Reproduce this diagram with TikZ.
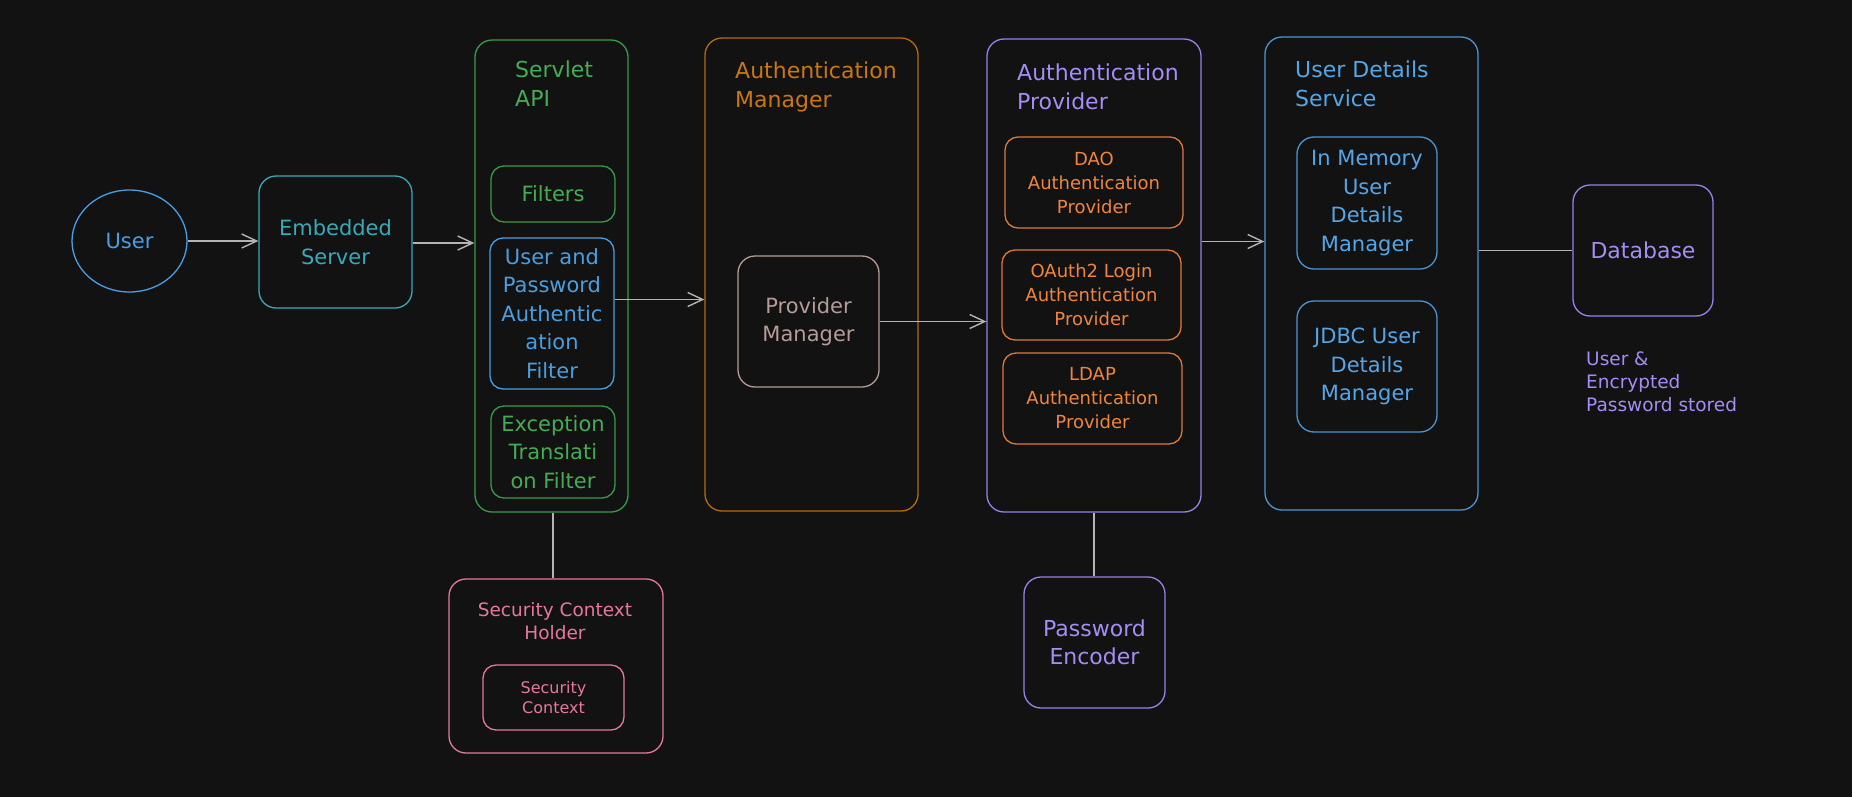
\documentclass[tikz,border=0pt]{standalone}
\usepackage{fontspec}
\setmainfont{DejaVu Sans}
\usetikzlibrary{arrows.meta,shapes.geometric,calc}
\definecolor{bgc}{HTML}{121212}
\definecolor{connc}{HTML}{B4B4B4}
\definecolor{userc}{HTML}{4A9EE6}
\definecolor{embc}{HTML}{3AA9B8}
\definecolor{greenc}{HTML}{3A9A48}
\definecolor{greent}{HTML}{45AC55}
\definecolor{bluec}{HTML}{4A9EE0}
\definecolor{amgrc}{HTML}{B86A0C}
\definecolor{amgrt}{HTML}{C97810}
\definecolor{pmc}{HTML}{B59C96}
\definecolor{purplec}{HTML}{9A80EE}
\definecolor{purplet}{HTML}{A68CF5}
\definecolor{orangec}{HTML}{E0783A}
\definecolor{oranget}{HTML}{F0853E}
\definecolor{udsc}{HTML}{4A94D6}
\definecolor{udst}{HTML}{55A6E8}
\definecolor{pinkc}{HTML}{E5789C}
\newcommand{\ftitle}{\fontsize{22}{28.5}\selectfont}
\newcommand{\fbody}{\fontsize{21}{28.5}\selectfont}
\newcommand{\fsmall}{\fontsize{18}{24}\selectfont}
\newcommand{\fnote}{\fontsize{18.5}{23}\selectfont}
\newcommand{\ftiny}{\fontsize{16}{20}\selectfont}
\tikzset{
  box/.style={draw=#1, text=#1, rounded corners=17pt, line width=1.3pt, inner sep=0pt, align=center},
  sbox/.style={box=#1, rounded corners=13pt},
  conn/.style={draw=connc, line width=1.4pt},
  arr/.style={conn, -{Straight Barb[length=15pt,width=14pt,line width=1.4pt]}},
  title/.style={text=#1, align=left, anchor=north west, inner sep=0pt},
}
\begin{document}
\begin{tikzpicture}[x=1pt,y=-1pt]
\useasboundingbox (0,0) rectangle (1852,796);
\fill[bgc] (-6,-6) rectangle (1858,802);

% User
\node[draw=userc, text=userc, ellipse, line width=1.3pt, minimum width=115, minimum height=102, inner sep=0pt, font=\fbody] (user) at (129.5,241) {User};
% Embedded Server
\node[box=embc, minimum width=153, minimum height=132, font=\fbody] (emb) at (335.5,242) {Embedded\\Server};

% Servlet API
\node[box=greenc, minimum width=153, minimum height=472] (servlet) at (551.5,276) {};
\node[title=greent, font=\ftitle] (servlett) at (515,61) {Servlet\\API};
\node[sbox=greenc, text=greent, minimum width=124, minimum height=56, font=\fbody] (filters) at (553,194) {Filters};
\node[sbox=bluec, minimum width=124, minimum height=151, font=\fbody] (upa) at (552,313.5) {User and\\Password\\Authentic\\ation\\Filter};
\node[sbox=greenc, text=greent, minimum width=124, minimum height=92, font=\fbody] (exc) at (553,452) {Exception\\Translati\\on Filter};

% Authentication Manager
\node[box=amgrc, minimum width=213, minimum height=473] (amgr) at (811.5,274.5) {};
\node[title=amgrt, font=\ftitle] (amgrt) at (735,62) {Authentication\\Manager};
\node[box=pmc, minimum width=141, minimum height=131, font=\fbody] (pm) at (808.5,321.5) {Provider\\Manager};

% Authentication Provider
\node[box=purplec, minimum width=214, minimum height=473] (aprov) at (1094,275.5) {};
\node[title=purplet, font=\ftitle] (aprovt) at (1017,64) {Authentication\\Provider};
\node[sbox=orangec, text=oranget, minimum width=178, minimum height=91, font=\fsmall] (dao) at (1094,182.5) {DAO\\Authentication\\Provider};
\node[sbox=orangec, text=oranget, minimum width=179, minimum height=90, font=\fsmall] (oauth) at (1091.5,295) {OAuth2 Login\\Authentication\\Provider};
\node[sbox=orangec, text=oranget, minimum width=179, minimum height=91, font=\fsmall] (ldap) at (1092.5,398.5) {LDAP\\Authentication\\Provider};

% User Details Service
\node[box=udsc, minimum width=213, minimum height=473] (uds) at (1371.5,273.5) {};
\node[title=udst, font=\ftitle] (udst) at (1295,61) {User Details\\Service};
\node[box=udsc, text=udst, minimum width=140, minimum height=132, font=\fbody] (inmem) at (1367,203) {In Memory\\User\\Details\\Manager};
\node[box=udsc, text=udst, minimum width=140, minimum height=131, font=\fbody] (jdbc) at (1367,366.5) {JDBC User\\Details\\Manager};

% Database
\node[box=purplec, text=purplet, minimum width=140, minimum height=131, font=\ftitle] (db) at (1643,250.5) {Database};
\node[title=purplet, font=\fnote] (note) at (1586,352) {User \&\\Encrypted\\Password stored};

% Security Context Holder
\node[box=pinkc, minimum width=214, minimum height=174] (sch) at (556,666) {};
\node[text=pinkc, align=center, inner sep=0pt, font=\fnote] (scht) at (555,621.5) {Security Context\\Holder};
\node[sbox=pinkc, minimum width=141, minimum height=65, font=\ftiny] (sc) at (553.5,697.5) {Security\\Context};

% Password Encoder
\node[box=purplec, text=purplet, minimum width=141, minimum height=131, font=\ftitle] (pe) at (1094.5,642.5) {Password\\Encoder};

% connectors
\draw[arr] (user.east) -- (user.east -| emb.west);
\draw[arr] ([yshift=-1pt]emb.east) -- ([yshift=-1pt]emb.east -| servlet.west);
\draw[arr] ([yshift=14pt]upa.east) -- ([yshift=14pt]upa.east -| amgr.west);
\draw[arr] (pm.east) -- (pm.east -| aprov.west);
\draw[arr] ([yshift=34pt]aprov.east) -- ([yshift=34pt]aprov.east -| uds.west);
\draw[conn] (db.west) -- (db.west -| uds.east);
\draw[conn] ([xshift=1.5pt]servlet.south) -- ([xshift=1.5pt]servlet.south |- sch.north);
\draw[conn] (aprov.south) -- (aprov.south |- pe.north);
\end{tikzpicture}
\end{document}
